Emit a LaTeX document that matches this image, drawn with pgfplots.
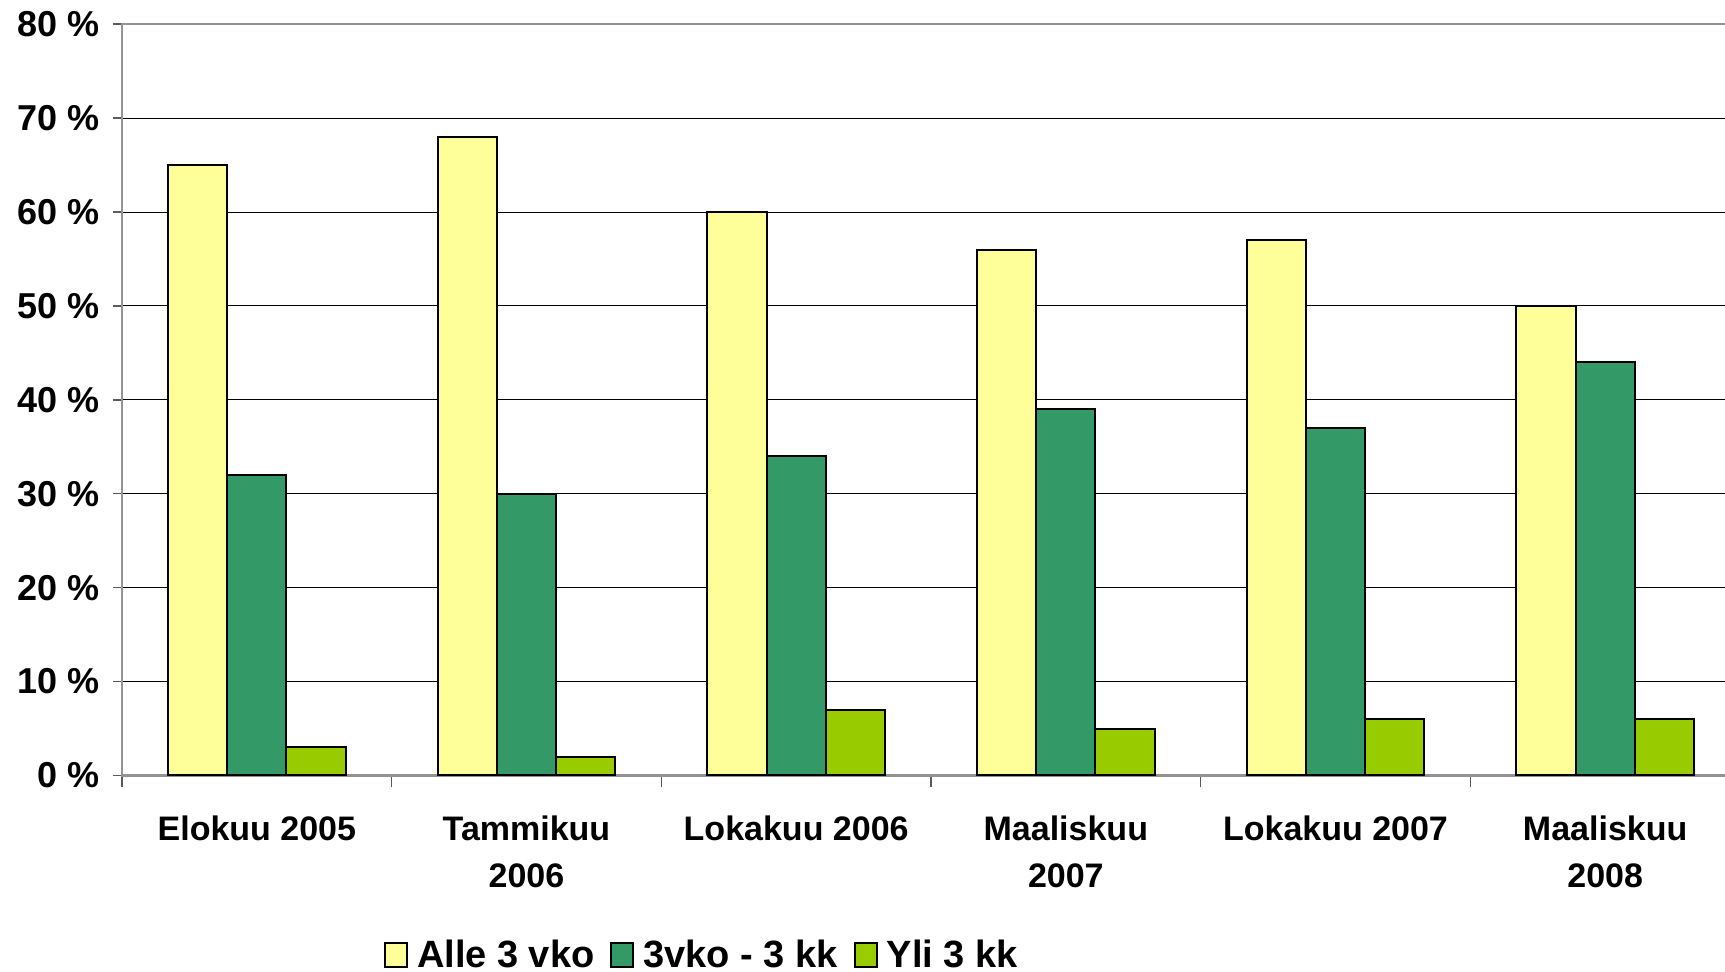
\documentclass[border=0pt]{standalone}
\usepackage{fontspec}
\setmainfont{Liberation Sans}
\usepackage{pgfplots}
\pgfplotsset{compat=1.18}
\definecolor{cyel}{HTML}{FFFF99}
\definecolor{cgreen}{HTML}{339966}
\definecolor{clime}{HTML}{99CC00}
\begin{document}
\begin{tikzpicture}
\begin{axis}[
  at={(0,0)}, anchor=south west,
  scale only axis,
  width=809pt, height=375.65pt,
  xmin=-0.5, xmax=5.5, ymin=0, ymax=80,
  ybar=0pt, bar width=0.22,
  font=\bfseries\fontsize{17}{23.6}\selectfont,
  xtick={0,...,5},
  xticklabels={Elokuu 2005,{Tammikuu\\2006},Lokakuu 2006,{Maaliskuu\\2007},Lokakuu 2007,{Maaliskuu\\2008}},
  xticklabel style={align=center, yshift=-12pt},
  major x tick style={draw=none},
  minor xtick={-0.5,0.5,...,5.5},
  tick pos=left,
  ytick={0,10,...,80},
  yticklabels={0 \%,10 \%,20 \%,30 \%,40 \%,50 \%,60 \%,70 \%,80 \%},
  yticklabel style={xshift=-3pt, font=\bfseries\fontsize{18}{20}\selectfont},
  tick align=outside,
  major tick length=4.5pt,
  minor tick length=6pt,
  tick style={gray!70!black, line width=0.7pt},
  ymajorgrids,
  grid style={black, line width=0.5pt},
  axis line style={gray!85, line width=1.2pt},
  legend style={draw=none, at={(0.158,-0.239)}, anchor=west, legend columns=3,
    font=\bfseries\fontsize{19}{21}\selectfont,
    /tikz/every even column/.append style={column sep=6pt}},
  legend cell align=left,
  legend image code/.code={\draw[#1, draw=black, line width=1pt] (0pt,-6pt) rectangle (11pt,6pt); \path[draw=none,fill=none] (0pt,0pt) -- (14pt,0pt);},
]
\addplot[fill=cyel, draw=black, line width=1pt] coordinates {(0,65) (1,68) (2,60) (3,56) (4,57) (5,50)};
\addplot[fill=cgreen, draw=black, line width=1pt] coordinates {(0,32) (1,30) (2,34) (3,39) (4,37) (5,44)};
\addplot[fill=clime, draw=black, line width=1pt] coordinates {(0,3) (1,2) (2,7) (3,5) (4,6) (5,6)};
\legend{Alle 3 vko, 3vko - 3 kk, Yli 3 kk}
\end{axis}
\pgfresetboundingbox
\path[use as bounding box] (-61pt,-98.25pt) rectangle (801.5pt,387.75pt);
\end{tikzpicture}
\end{document}
